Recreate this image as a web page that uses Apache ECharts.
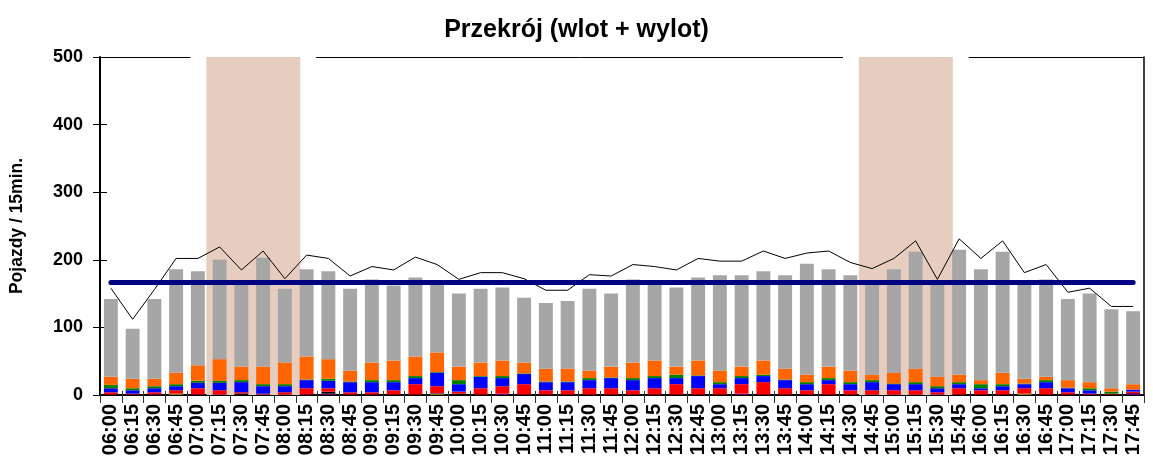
<!DOCTYPE html>
<html>
<head>
<meta charset="utf-8">
<title>Przekrój (wlot + wylot)</title>
<script src="https://cdn.jsdelivr.net/npm/echarts@6/dist/echarts.min.js"></script>
<style>
html, body { margin: 0; padding: 0; background: #fff; }
#main { width: 1153px; height: 464px; }
</style>
</head>
<body>
<div id="main"></div>
<script type="text/javascript">

// przedziały 15-minutowe
var hours = ['06:00','06:15','06:30','06:45','07:00','07:15','07:30','07:45','08:00','08:15','08:30','08:45',
             '09:00','09:15','09:30','09:45','10:00','10:15','10:30','10:45','11:00','11:15','11:30','11:45',
             '12:00','12:15','12:30','12:45','13:00','13:15','13:30','13:45','14:00','14:15','14:30','14:45',
             '15:00','15:15','15:30','15:45','16:00','16:15','16:30','16:45','17:00','17:15','17:30','17:45'];

// kategorie pojazdów (od dołu stosu)
var olive  = [0,0,0,2,0,0,0,0,0,0,0,0, 0,0,0,2,0,0,0,0,0,0,0,0, 0,0,0,0,0,0,0,0,0,0,0,0, 0,0,0,0,0,0,2,0,0,0,0,0];
var maroon = [1,1,0,0,0,0,0,0,1,0,0,1, 1,1,1,0,0,1,0,1,1,1,1,1, 1,1,1,1,1,0,1,1,1,1,1,1, 1,1,0,1,1,1,0,1,1,1,2,0];
var purple = [0,0,1,0,1,1,0,1,0,1,2,0, 0,0,0,1,0,0,2,0,0,0,0,0, 0,0,0,0,0,2,0,0,0,0,0,0, 0,0,1,0,0,0,0,0,0,0,0,3];
var black  = [0,0,0,0,0,0,2,0,0,0,3,0, 0,0,0,0,2,0,0,0,0,0,0,0, 0,0,0,0,0,0,0,0,0,0,0,0, 0,0,0,0,0,0,0,0,0,0,0,0];
var red    = [3,1,3,5,9,6,2,1,3,9,5,3, 3,6,15,10,3,9,11,15,6,6,9,9, 6,9,15,9,9,14,18,9,6,15,6,6, 6,6,3,9,6,6,8,9,3,1,0,2];
var blue   = [6,5,6,6,8,11,15,11,9,12,11,15, 15,12,9,20,11,17,12,15,12,12,12,15, 15,15,9,18,6,9,9,12,9,6,9,12, 9,9,6,6,3,6,6,9,6,5,0,3];
var green  = [5,3,3,3,3,3,3,3,3,1,3,1, 3,3,3,1,6,1,3,1,1,1,3,1, 3,3,5,1,3,3,2,1,3,3,3,3, 1,3,3,3,6,3,1,3,1,3,3,0];
var orange = [12,14,11,17,23,32,20,26,32,34,29,16, 26,29,29,29,20,20,23,16,19,19,11,16, 23,23,12,22,17,14,21,16,11,17,17,8, 16,20,14,11,6,17,7,5,11,9,5,8];
var gray   = [115,74,118,153,139,147,124,161,109,129,130,121, 123,111,117,103,108,109,108,96,97,100,121,108,
              123,115,117,123,141,135,132,138,164,144,141,136, 153,173,139,185,164,179,142,144,120,131,117,108];

// linia czarna
var lineTotal = [158,112,156,202,202,219,185,213,172,207,202,176, 190,185,204,193,171,181,181,172,155,155,178,176,
                 193,190,185,202,198,198,213,202,210,213,196,187, 202,228,171,231,202,228,181,193,152,158,131,131];

// średnia
var average = 166.6;

// godziny szczytu
var peaks = [['07:15','08:00'], ['14:45','15:30']];

var yMin = 0, yMax = 500, yStep = 100;

var FONT = 'Liberation Sans, Arial, sans-serif';

var dom = document.getElementById('main');
var myChart = echarts.init(dom);

function bar(name, values, color) {
    return {
        name: name,
        type: 'bar',
        stack: 'suma',
        xAxisIndex: 0,
        yAxisIndex: 0,
        barCategoryGap: '36%',
        data: values,
        z: 2,
        itemStyle: { color: color }
    };
}

// zaciemnienie szczytów i górna ramka z przerwami
var peakAreas = [];
var topFrame = [];
var edgeFrom = -0.5;
peaks.forEach(function (p) {
    var a = hours.indexOf(p[0]) - 0.61;
    var b = hours.indexOf(p[1]) + 0.71;
    peakAreas.push([{ xAxis: a }, { xAxis: b }]);
    topFrame.push([{ coord: [edgeFrom, yMax] }, { coord: [a - 0.73, yMax] }]);
    edgeFrom = b + 0.73;
});
topFrame.push([{ coord: [edgeFrom, yMax] }, { coord: [hours.length - 0.5, yMax] }]);

var option = {
    animation: false,
    backgroundColor: '#fff',
    title: {
        text: 'Przekrój (wlot + wylot)',
        left: 'center',
        top: 13,
        textStyle: { fontFamily: FONT, fontSize: 25, fontWeight: 'bold', color: '#000' }
    },
    grid: { left: 100, right: 9, top: 57, bottom: 69 },
    xAxis: [{
        type: 'category',
        data: hours,
        position: 'bottom',
        axisLine: { onZero: false, lineStyle: { color: '#000', width: 2 } },
        axisTick: { show: true, length: 8, interval: 0, lineStyle: { color: '#333' } },
        axisLabel: { interval: 0, rotate: 90, margin: 9, color: '#000', fontFamily: FONT, fontSize: 20, fontWeight: 'bold' }
    }, {
        type: 'value',
        min: -0.5,
        max: hours.length - 0.5,
        show: false
    }, {
        type: 'category',
        data: hours,
        position: 'bottom',
        axisLine: { show: false, onZero: false },
        axisTick: { show: true, inside: true, length: 4, interval: 0, lineStyle: { color: '#333' } },
        axisLabel: { show: false }
    }],
    yAxis: [{
        type: 'value',
        min: yMin,
        max: yMax,
        interval: yStep,
        position: 'left',
        name: 'Pojazdy / 15min.',
        nameLocation: 'middle',
        nameGap: 74,
        nameTextStyle: { fontFamily: FONT, fontSize: 17.5, fontWeight: 'bold', color: '#000' },
        axisLine: { show: true, onZero: false, lineStyle: { color: '#000', width: 2 } },
        axisTick: { show: true, length: 7, lineStyle: { color: '#000' } },
        axisLabel: { margin: 17, color: '#000', fontFamily: FONT, fontSize: 18, fontWeight: 'bold' },
        splitLine: { show: false }
    }, {
        type: 'value',
        min: yMin,
        max: yMax,
        interval: yStep,
        position: 'left',
        axisLine: { show: false, onZero: false },
        axisTick: { show: true, inside: true, length: 7, lineStyle: { color: '#000' } },
        axisLabel: { show: false },
        splitLine: { show: false }
    }, {
        type: 'value',
        min: yMin,
        max: yMax,
        position: 'right',
        axisLine: { show: true, onZero: false, lineStyle: { color: '#000', width: 1.5 } },
        axisTick: { show: false },
        axisLabel: { show: false },
        splitLine: { show: false }
    }],
    series: [
        {
            type: 'line',
            xAxisIndex: 1,
            yAxisIndex: 0,
            data: [],
            z: 1,
            silent: true,
            markArea: { silent: true, itemStyle: { color: '#e6cdbf' }, data: peakAreas },
            markLine: {
                silent: true, symbol: 'none', label: { show: false },
                lineStyle: { color: '#000', width: 1, type: 'solid' },
                data: topFrame
            }
        },
        bar('olive', olive, '#808000'),
        bar('maroon', maroon, '#800000'),
        bar('purple', purple, '#660066'),
        bar('black', black, '#000000'),
        bar('red', red, '#ff0000'),
        bar('blue', blue, '#0000ff'),
        bar('green', green, '#008000'),
        bar('orange', orange, '#ff6600'),
        bar('gray', gray, '#a6a6a6'),
        {
            type: 'line',
            xAxisIndex: 0,
            yAxisIndex: 0,
            data: [],
            z: 3,
            silent: true,
            markLine: {
                silent: true, symbol: 'none', label: { show: false },
                lineStyle: { color: '#000080', width: 5, type: 'solid', cap: 'round' },
                data: [[{ coord: [hours[0], average] }, { coord: [hours[hours.length - 1], average] }]]
            }
        },
        {
            name: 'suma',
            type: 'line',
            xAxisIndex: 0,
            yAxisIndex: 0,
            data: lineTotal,
            z: 4,
            symbol: 'none',
            silent: true,
            lineStyle: { color: '#000', width: 1 }
        }
    ]
};

myChart.setOption(option, true);
</script>
</body>
</html>
